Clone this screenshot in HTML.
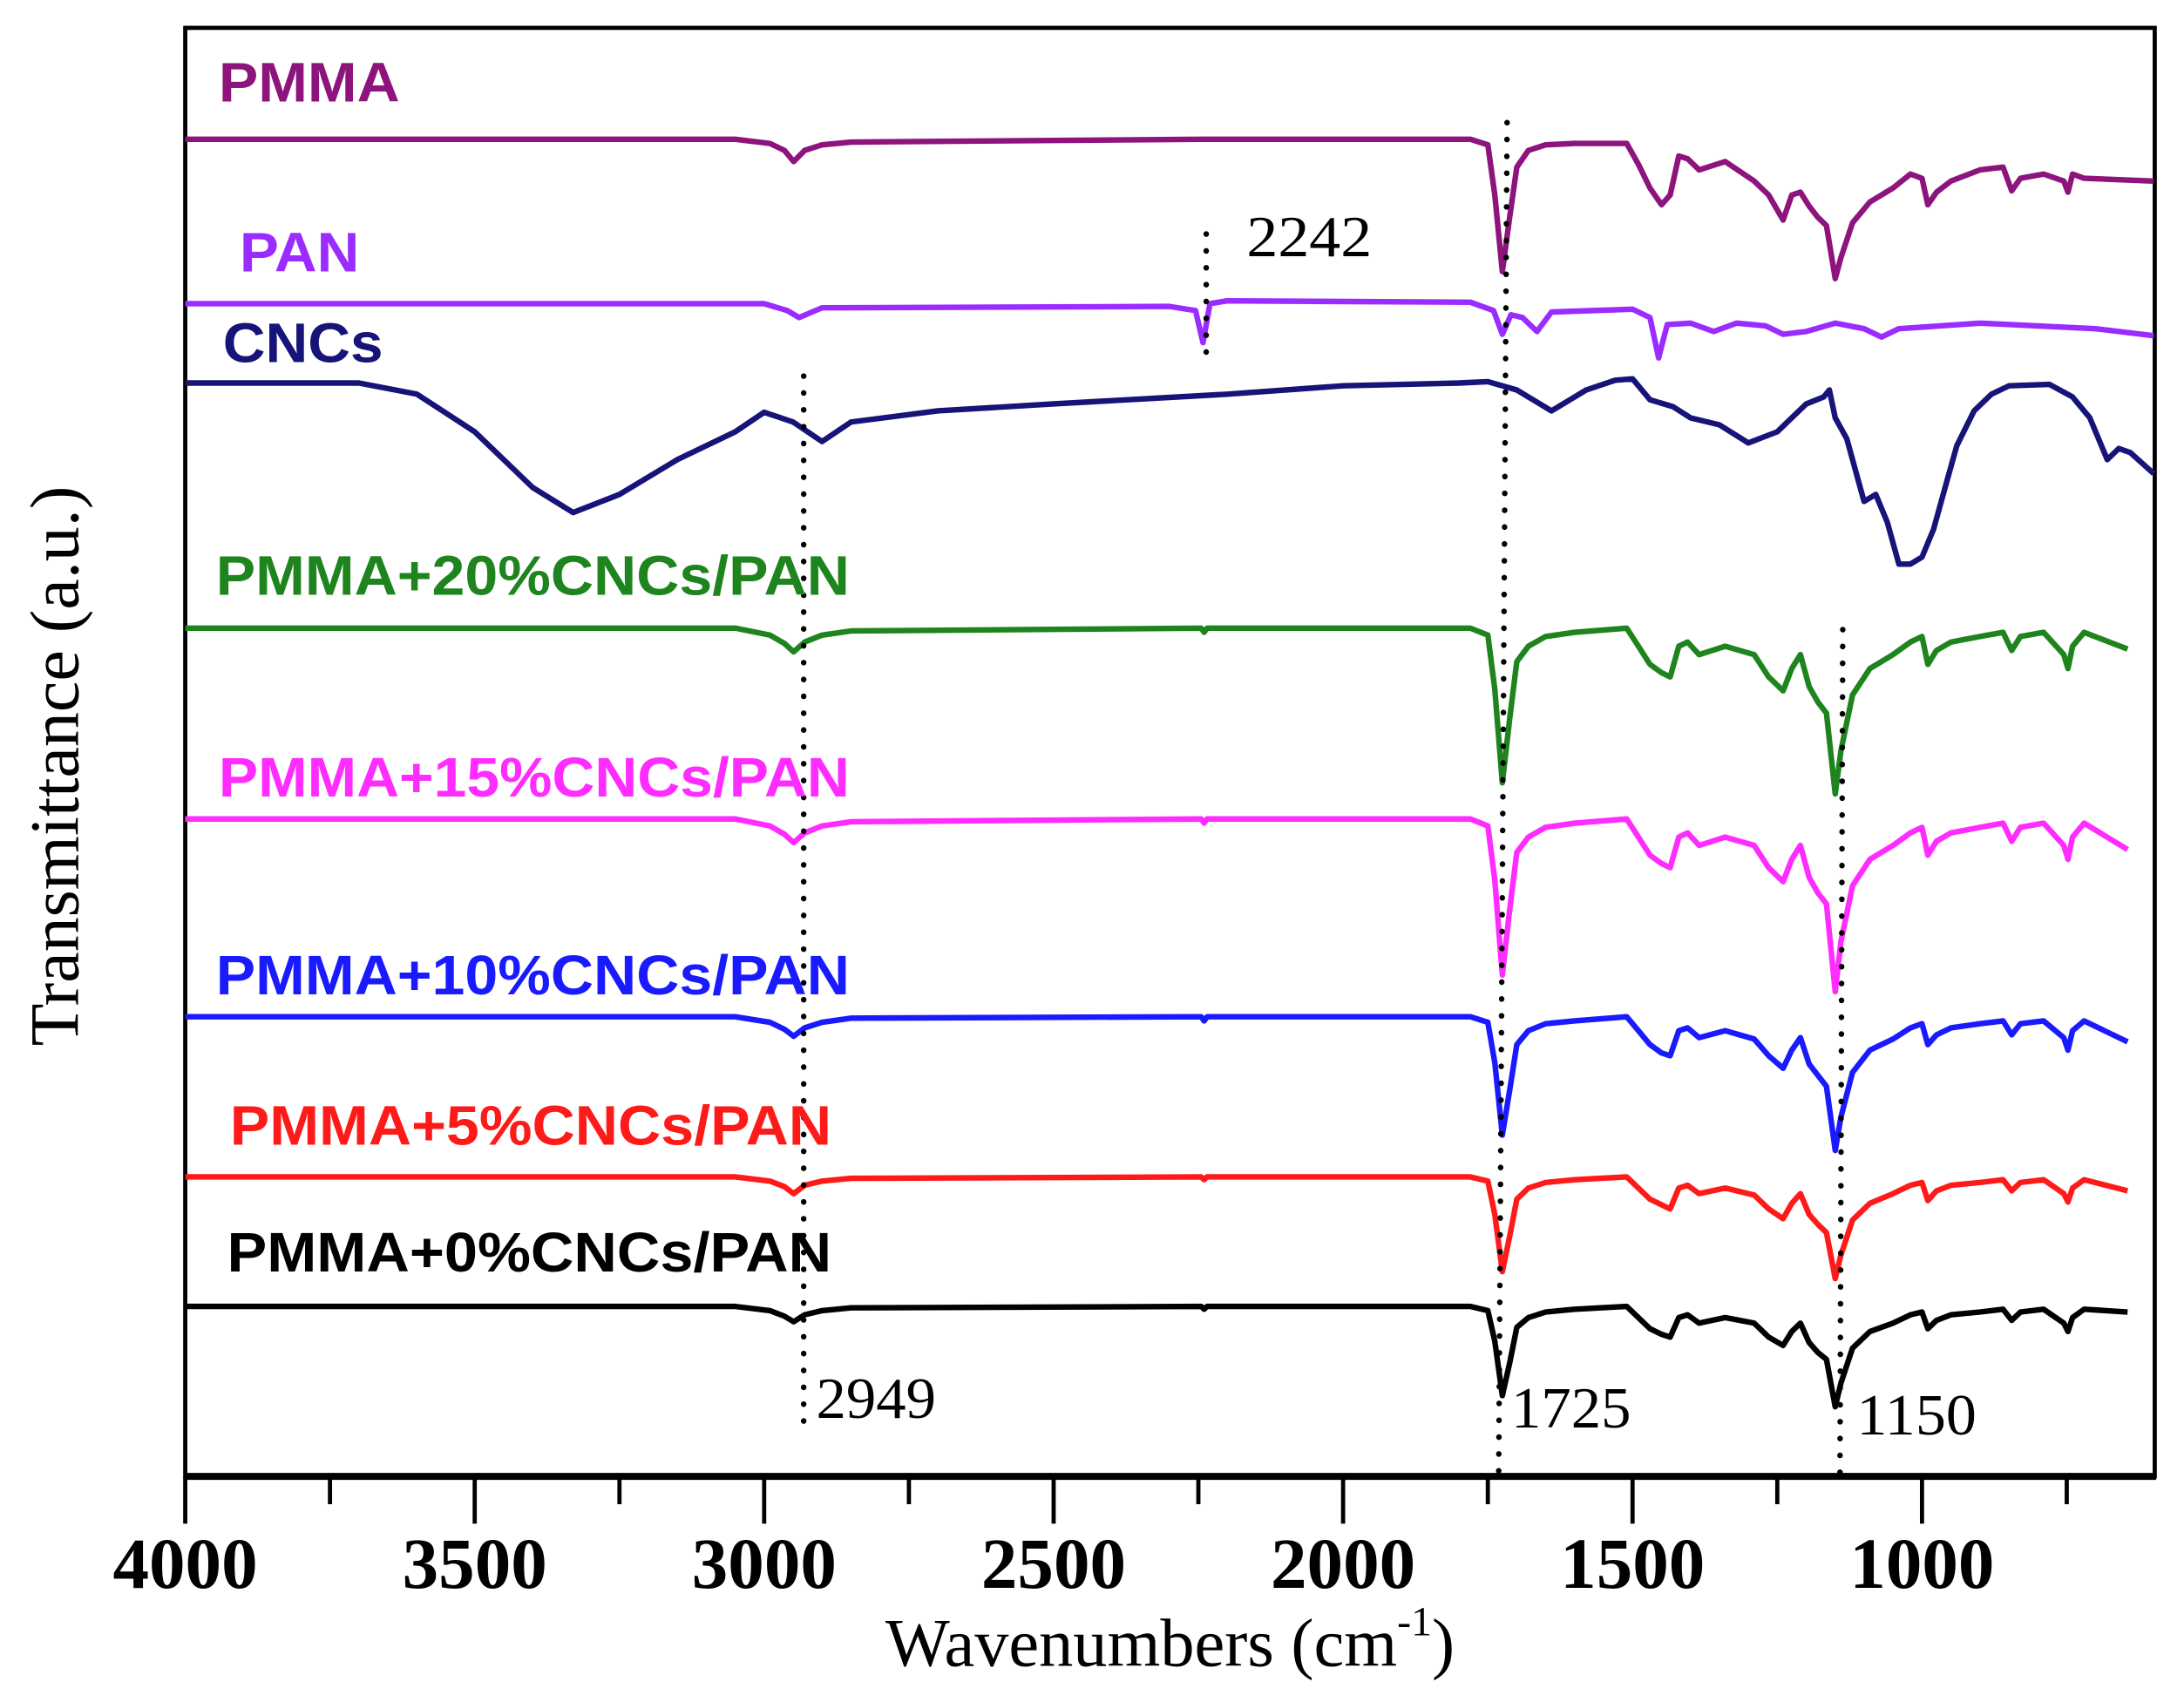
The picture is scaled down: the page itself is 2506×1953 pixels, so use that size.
<!DOCTYPE html>
<html><head><meta charset="utf-8"><style>
html,body{margin:0;padding:0;background:#fff;}
svg{display:block;}
</style></head><body>
<svg id="chart" width="2506" height="1953" viewBox="0 0 1568 1222" xmlns="http://www.w3.org/2000/svg">
<rect x="0" y="0" width="1568" height="1222" fill="#fff"/>
<g id="frame"></g>
<g id="series"></g>
<g id="annot"></g>
<g id="axes"></g>
</svg>
<script>
// ---- data ----
const xTicks = [4000,3500,3000,2500,2000,1500,1000];
const xMinorTicks = [3750,3250,2750,2250,1750,1250,750];
const compW = [4000,3050,2990,2965,2949,2930,2900,2850,2245,2240,2235,1780,1750,1738,1725,1712,1700,1680,1650,1600,1510,1490,1470,1450,1435,1420,1405,1385,1340,1290,1265,1240,1225,1210,1195,1180,1165,1150,1140,1120,1090,1050,1020,1000,990,975,950,900,860,845,830,790,755,748,740,720,645];
const pmmaW = [4000,3050,2990,2965,2949,2930,2900,2850,2245,2240,2235,1780,1750,1738,1725,1712,1700,1680,1650,1600,1510,1490,1470,1450,1435,1420,1405,1385,1340,1290,1265,1240,1225,1210,1195,1180,1165,1150,1140,1120,1090,1050,1020,1000,990,975,950,900,860,845,830,790,755,748,740,720,600];
const pmmaDepth = [0,0,3,8,16,8,4,2,0,0,0,0,4,40,95,55,20,8,4,3,3,18,35,47,40,12,14,22,16,30,40,58,40,38,48,56,62,100,85,60,45,35,25,28,47,38,30,22,20,37,28,25,30,38,25,28,30];
const pct20Depth = [0,0,5,11,17,10,5,2,0,3,0,0,5,44,111,64,24,13,6,3,0,13,26,32,35,13,10,19,13,19,35,45,29,19,42,53,61,119,88,48,29,19,10,6,26,16,10,6,3,16,6,3,19,29,13,3,15];
const pct15Depth = [0,0,5,11,17,10,5,2,0,3,0,0,5,44,112,64,24,13,6,3,0,13,26,32,35,13,10,19,13,19,35,45,29,19,42,53,61,124,88,48,29,19,10,6,26,16,10,6,3,16,6,3,19,29,13,3,22];
const pct10Depth = [0,0,4,9,14,8,4,1,0,3,0,0,4,33,85,52,20,10,5,3,0,10,20,26,28,10,8,15,10,16,28,37,24,15,34,42,50,96,72,40,24,16,8,5,20,13,8,5,3,13,5,3,15,24,10,3,18];
const pct5Depth = [0,0,3,7,12,6,3,1,0,2,0,0,3,27,68,42,16,8,4,2,0,8,16,20,23,8,6,12,8,13,23,30,19,12,27,34,40,73,56,31,19,12,6,4,17,10,6,4,2,10,4,2,12,18,8,2,10];
const pct0Depth = [0,0,3,7,11,6,3,1,0,2,0,0,3,25,64,40,15,8,4,2,0,8,16,20,22,8,6,12,8,12,22,28,18,12,26,33,38,72,55,30,18,12,6,4,16,10,6,4,2,10,4,2,12,18,8,2,4];
const panW = [4000,3000,2960,2940,2900,2300,2255,2242,2230,2200,1780,1740,1725,1710,1690,1665,1640,1500,1470,1455,1440,1400,1360,1320,1270,1240,1200,1150,1100,1070,1040,900,700,600];
const panDepth = [0,0,5,10,3,2,5,28,0,-2,-1,5,22,8,10,20,6,4,10,39,15,14,20,14,16,22,20,14,18,24,18,14,18,23];
const cncW = [4000,3700,3600,3500,3400,3330,3250,3150,3050,3000,2950,2900,2850,2700,2500,2200,2000,1800,1750,1700,1640,1580,1530,1500,1470,1430,1400,1350,1300,1250,1200,1170,1160,1150,1130,1100,1080,1060,1040,1020,1000,980,960,940,910,880,850,780,740,710,680,660,640,600];
const cncDepth = [0,0,8,35,75,93,80,55,35,21,28,42,28,20,15,8,2,0,-1,5,20,5,-2,-3,12,17,25,30,43,35,15,10,5,25,40,85,80,100,130,130,125,105,75,45,20,8,2,1,10,25,55,47,50,65];
const offsets = {pmma:960, pan:842, cnc:785, p20:609, p15:472, p10:330, p5:215, p0:122};

// ---- axis functions ----
const X0=133, X1=1547, Y0=20, Y1=1060;
function xScale(w){ return X0 + (4000-w)*(X1-X0)/(4000-598); }
function yScale(v){ return Y1 - v*(Y1-Y0)/1040; }

const NS="http://www.w3.org/2000/svg";
function mk(tag, attrs, parent){ const e=document.createElementNS(NS,tag); for(const k in attrs) e.setAttribute(k,attrs[k]); parent.appendChild(e); return e; }

const traces = [
 {id:'pmma-trace', W:pmmaW, D:pmmaDepth, off:offsets.pmma, c:'#8c147c'},
 {id:'pan-trace', W:panW, D:panDepth, off:offsets.pan, c:'#9a2cff'},
 {id:'cncs-trace', W:cncW, D:cncDepth, off:offsets.cnc, c:'#161478'},
 {id:'pmma-20-trace', W:compW, D:pct20Depth, off:offsets.p20, c:'#1e841e'},
 {id:'pmma-15-trace', W:compW, D:pct15Depth, off:offsets.p15, c:'#ff2cff'},
 {id:'pmma-10-trace', W:compW, D:pct10Depth, off:offsets.p10, c:'#1a1aff'},
 {id:'pmma-5-trace', W:compW, D:pct5Depth, off:offsets.p5, c:'#ff1a1a'},
 {id:'pmma-0-trace', W:compW, D:pct0Depth, off:offsets.p0, c:'#000'}
];
const sg=document.getElementById('series');
traces.forEach(t=>{
  let d=''; t.W.forEach((w,i)=>{ d+=(i?'L':'M')+xScale(w).toFixed(1)+' '+yScale(t.off - t.D[i]).toFixed(1); });
  const p=mk('path',{d:d,fill:'none',stroke:t.c,'stroke-width':4,'stroke-linejoin':'round'},sg);
  
  
});

const fg=document.getElementById('frame');
const fr=mk('rect',{x:X0,y:Y0,width:X1-X0,height:Y1-Y0,fill:'none',stroke:'#000','stroke-width':3},fg);



const ag=document.getElementById('axes');
const bl=mk('line',{x1:X0-1,y1:Y1,x2:X1+1,y2:Y1,stroke:'#000','stroke-width':5},ag);


xTicks.forEach(w=>{
  const x=xScale(w);
  const t=mk('line',{x1:x,y1:Y1,x2:x,y2:Y1+34,stroke:'#000','stroke-width':3},ag);
  
  
  const l=mk('text',{x:x,y:1140,'text-anchor':'middle','font-family':'Liberation Serif, serif','font-weight':'bold','font-size':52},ag);
  l.textContent=w;
  
  
});
xMinorTicks.forEach(w=>{
  const x=xScale(w);
  const t=mk('line',{x1:x,y1:Y1,x2:x,y2:Y1+20,stroke:'#000','stroke-width':3},ag);
  
  
});
const xt=mk('text',{x:840,y:1196,'text-anchor':'middle','font-family':'Liberation Serif, serif','font-size':49},ag);
xt.innerHTML='Wavenumbers (cm<tspan dy="-22" font-size="30">-1</tspan><tspan dy="22">)</tspan>';


const yt=mk('text',{x:0,y:0,transform:'translate(56,550) rotate(-90)','text-anchor':'middle','font-family':'Liberation Serif, serif','font-size':50},ag);
yt.textContent='Transmittance (a.u.)';



const an=document.getElementById('annot');
const vlines=[[866,168,866,262,'dotted-line-2242'],[577,270,577,1022,'dotted-line-2949'],[1082,88,1076,1058,'dotted-line-1725'],[1323,452,1321,1058,'dotted-line-1150']];
vlines.forEach(v=>{
  const l=mk('line',{x1:v[0],y1:v[1],x2:v[2],y2:v[3],stroke:'#000','stroke-width':4,'stroke-dasharray':'0.1 12','stroke-linecap':'round'},an);
  
  
});
const peaks=[['2242',895,184,90],['2949',586,1018,86],['1725',1085,1025,86],['1150',1333,1030,86]];
peaks.forEach(p=>{
  const t=mk('text',{x:p[1],y:p[2],'font-family':'Liberation Serif, serif','font-size':42,textLength:p[3],lengthAdjust:'spacingAndGlyphs'},an);
  t.textContent=p[0];
  
  
});
const labels=[['PMMA',157,73,'#8c147c',130],['PAN',172,195,'#9a2cff',86],['CNCs',160,260,'#161478',115],['PMMA+20%CNCs/PAN',155,427,'#1e841e',455],['PMMA+15%CNCs/PAN',157,572,'#ff2cff',453],['PMMA+10%CNCs/PAN',155,714,'#1a1aff',455],['PMMA+5%CNCs/PAN',165,822,'#ff1a1a',432],['PMMA+0%CNCs/PAN',163,913,'#000',434]];
labels.forEach(l=>{
  const t=mk('text',{x:l[1],y:l[2],fill:l[3],'font-family':'Liberation Sans, sans-serif','font-weight':'bold','font-size':40,textLength:l[4],lengthAdjust:'spacingAndGlyphs'},an);
  t.textContent=l[0];
  
  
});
</script>
</body></html>
